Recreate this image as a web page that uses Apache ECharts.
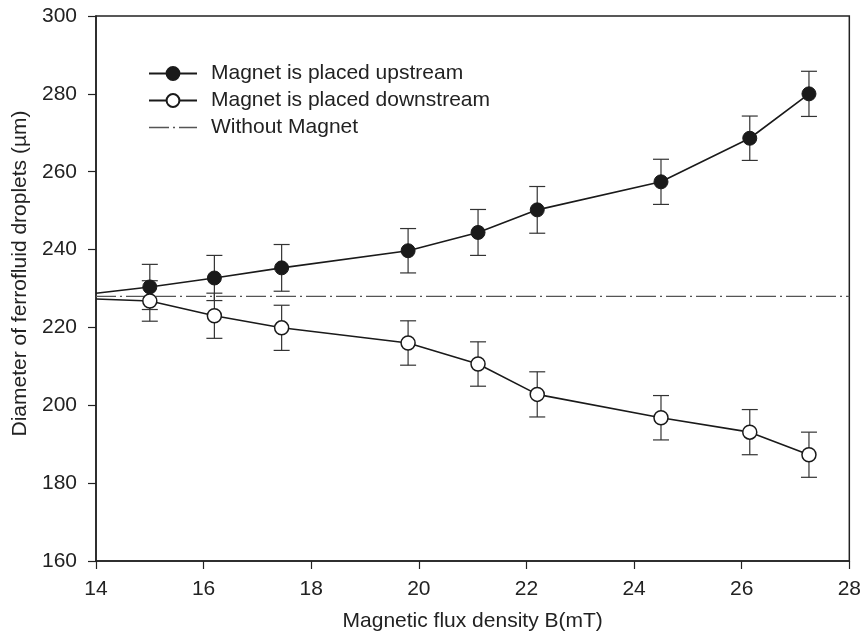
<!DOCTYPE html>
<html>
<head>
<meta charset="utf-8">
<script src="https://cdn.jsdelivr.net/npm/echarts@6/dist/echarts.min.js"></script>
<style>
  html, body { margin: 0; padding: 0; background: #fff; }
  #chart { width: 864px; height: 639px; }
</style>
</head>
<body>
<div id="chart"></div>
<script>
// flux density values (mT)
var fluxDensity = [15.0, 16.2, 17.45, 19.8, 21.1, 22.2, 24.5, 26.15, 27.25];
// droplet diameter (um)
var upstream = [230.4, 232.7, 235.3, 239.7, 244.4, 250.2, 257.4, 268.6, 280.0];
var upstreamErr = [5.8, 5.8, 6.0, 5.7, 5.9, 6.0, 5.8, 5.7, 5.8];
var downstream = [226.8, 223.0, 219.9, 216.0, 210.6, 202.8, 196.8, 193.1, 187.3];
var downstreamErr = [5.2, 5.8, 5.8, 5.7, 5.7, 5.8, 5.7, 5.8, 5.8];
// lines start at the axis (no marker there)
var lineStartB = 14;
var upstreamStart = 228.8;
var downstreamStart = 227.3;
// reference without magnet
var noMagnetB = [14, 28];
var noMagnet = [228, 228];

var xTicks = { min: 14, max: 28, interval: 2 };
var yTicks = { min: 160, max: 300, interval: 20 };

var fontFamily = "'Liberation Sans', Arial, sans-serif";
var dashDot = [20, 4, 2, 4];

function lineData(ys, y0) {
    var d = [{ value: [lineStartB, y0], symbol: 'none' }];
    for (var i = 0; i < fluxDensity.length; i++) {
        d.push([fluxDensity[i], ys[i]]);
    }
    return d;
}

function errData(ys, es) {
    var d = [];
    for (var i = 0; i < fluxDensity.length; i++) {
        d.push([fluxDensity[i], ys[i] - es[i], ys[i] + es[i]]);
    }
    return d;
}

function renderErr(params, api) {
    var lo = api.coord([api.value(0), api.value(1)]);
    var hi = api.coord([api.value(0), api.value(2)]);
    var cap = 8;
    var style = { stroke: '#333', lineWidth: 1.2 };
    return {
        type: 'group',
        children: [
            { type: 'line', shape: { x1: lo[0], y1: lo[1], x2: hi[0], y2: hi[1] }, style: style },
            { type: 'line', shape: { x1: lo[0] - cap, y1: lo[1], x2: lo[0] + cap, y2: lo[1] }, style: style },
            { type: 'line', shape: { x1: hi[0] - cap, y1: hi[1], x2: hi[0] + cap, y2: hi[1] }, style: style }
        ]
    };
}

var chart = echarts.init(document.getElementById('chart'));
chart.setOption({
    animation: false,
    backgroundColor: '#fff',
    textStyle: { fontFamily: fontFamily },
    grid: {
        left: 96, right: 12, top: 16, bottom: 78,
        show: true, borderColor: '#222', borderWidth: 1.5, backgroundColor: 'transparent'
    },
    legend: {
        orient: 'vertical',
        left: 143,
        top: 58,
        itemWidth: 48,
        itemHeight: 16,
        itemGap: 6,
        data: [
            'Magnet is placed upstream',
            'Magnet is placed downstream',
            {
                name: 'Without Magnet',
                itemStyle: { opacity: 0 },
                lineStyle: { type: dashDot, color: '#555', width: 1.3 }
            }
        ],
        textStyle: { fontSize: 21, color: '#222', fontFamily: fontFamily, padding: [0, 0, 0, 9] }
    },
    xAxis: {
        type: 'value',
        min: xTicks.min, max: xTicks.max, interval: xTicks.interval,
        name: 'Magnetic flux density B(mT)',
        nameLocation: 'middle',
        nameGap: 50,
        nameTextStyle: { fontSize: 21, color: '#222', fontFamily: fontFamily },
        axisLine: { lineStyle: { color: '#222', width: 1.5 } },
        axisTick: { inside: false, length: 8, lineStyle: { color: '#222', width: 1.2 } },
        axisLabel: { fontSize: 21, color: '#222', margin: 18, fontFamily: fontFamily },
        splitLine: { show: false }
    },
    yAxis: {
        type: 'value',
        min: yTicks.min, max: yTicks.max, interval: yTicks.interval,
        name: 'Diameter of ferrofluid droplets (µm)',
        nameLocation: 'middle',
        nameGap: 64,
        nameTextStyle: { fontSize: 21, color: '#222', fontFamily: fontFamily, padding: [0, 0, 0, 30] },
        axisLine: { lineStyle: { color: '#222', width: 1.5 } },
        axisTick: { inside: false, length: 8, lineStyle: { color: '#222', width: 1.2 } },
        axisLabel: { fontSize: 21, color: '#222', margin: 19, fontFamily: fontFamily },
        splitLine: { show: false }
    },
    series: [
        {
            name: 'Without Magnet',
            type: 'line',
            data: noMagnetB.map(function (b, i) { return [b, noMagnet[i]]; }),
            symbol: 'none',
            lineStyle: { color: '#555', width: 1.3, type: dashDot },
            itemStyle: { color: '#555' },
            z: 1
        },
        {
            name: 'upErr',
            type: 'custom',
            renderItem: renderErr,
            data: errData(upstream, upstreamErr),
            z: 2
        },
        {
            name: 'downErr',
            type: 'custom',
            renderItem: renderErr,
            data: errData(downstream, downstreamErr),
            z: 2
        },
        {
            name: 'Magnet is placed upstream',
            type: 'line',
            data: lineData(upstream, upstreamStart),
            symbol: 'circle',
            symbolSize: 14,
            lineStyle: { color: '#1a1a1a', width: 1.6 },
            itemStyle: { color: '#1a1a1a', borderColor: '#1a1a1a', borderWidth: 1 },
            z: 3
        },
        {
            name: 'Magnet is placed downstream',
            type: 'line',
            data: lineData(downstream, downstreamStart),
            symbol: 'circle',
            symbolSize: 14,
            lineStyle: { color: '#1a1a1a', width: 1.6 },
            itemStyle: { color: '#fff', borderColor: '#1a1a1a', borderWidth: 1.5 },
            z: 3
        }
    ]
});
</script>
</body>
</html>
